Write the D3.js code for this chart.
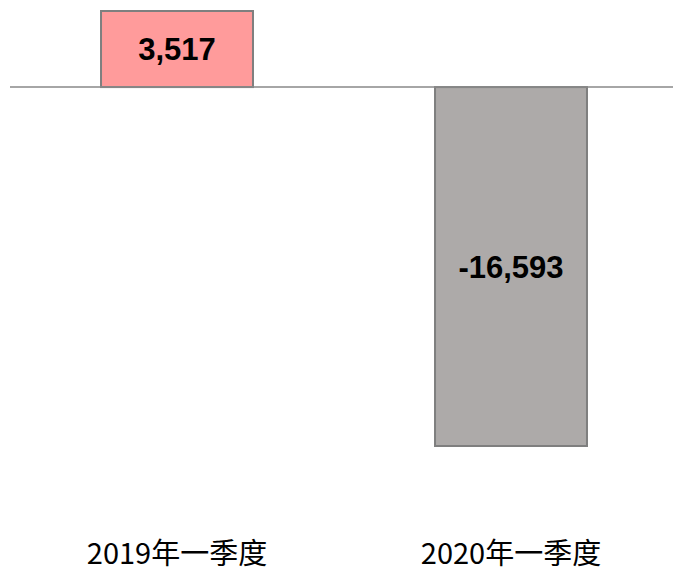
<!DOCTYPE html>
<html>
<head>
<meta charset="utf-8">
<script src="https://cdn.jsdelivr.net/npm/d3@7"></script>
<style>
  body { margin: 0; background: #fff; }
  .value { font-family: "Liberation Sans", Arial, sans-serif; font-weight: bold; font-size: 31px; fill: #000; }
  .cat { font-family: "Noto Sans CJK SC", sans-serif; font-size: 29px; fill: #000; }
</style>
</head>
<body>
<svg></svg>
<script>
// data
var categories = ["2019年一季度", "2020年一季度"];
var values = [3517, -16593];
var barColors = ["#FF9B9B", "#ADAAA9"];

var screen = {width: 673, height: 573};

var svg = d3.select("svg")
    .attr("width", screen.width)
    .attr("height", screen.height);

var xScale = d3.scaleBand()
    .domain(categories)
    .range([10, 678])
    .paddingInner(0.545)
    .paddingOuter(0.2725);

var yScale = d3.scaleLinear()
    .domain([d3.min(values), d3.max(values)])
    .range([446, 11]);

// plain hyphen for negatives
var fmt = d3.formatLocale({decimal: ".", thousands: ",", grouping: [3], currency: ["", ""], minus: "-"}).format(",");

// bars
svg.append("g")
    .selectAll("rect")
    .data(values)
    .enter()
    .append("rect")
    .attr("x", function(d, i) { return xScale(categories[i]); })
    .attr("y", function(d) { return yScale(Math.max(0, d)); })
    .attr("width", xScale.bandwidth())
    .attr("height", function(d) { return Math.abs(yScale(d) - yScale(0)); })
    .attr("fill", function(d, i) { return barColors[i]; })
    .attr("stroke", "#7f7f7f")
    .attr("stroke-width", 2);

// zero line
svg.append("line")
    .attr("x1", 10)
    .attr("x2", screen.width)
    .attr("y1", yScale(0))
    .attr("y2", yScale(0))
    .attr("stroke", "#888")
    .attr("stroke-width", 1.5);

// value labels in bar middles
svg.append("g")
    .selectAll("text")
    .data(values)
    .enter()
    .append("text")
    .classed("value", true)
    .attr("text-anchor", "middle")
    .attr("x", function(d, i) { return xScale(categories[i]) + xScale.bandwidth() / 2; })
    .attr("y", function(d) { return (yScale(d) + yScale(0)) / 2; })
    .attr("dy", "0.36em")
    .text(function(d) { return fmt(d); });

// category labels
svg.append("g")
    .selectAll("text")
    .data(categories)
    .enter()
    .append("text")
    .classed("cat", true)
    .attr("text-anchor", "middle")
    .attr("x", function(d) { return xScale(d) + xScale.bandwidth() / 2; })
    .attr("y", 564)
    .text(function(d) { return d; });
</script>
</body>
</html>
